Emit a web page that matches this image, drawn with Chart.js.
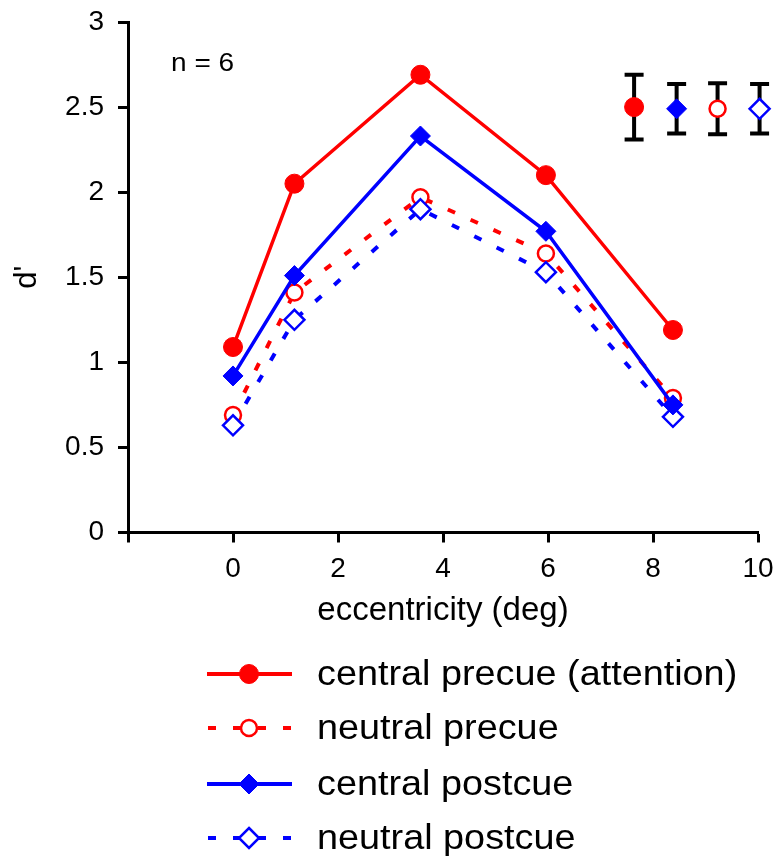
<!DOCTYPE html>
<html>
<head>
<meta charset="utf-8">
<script src="https://cdn.jsdelivr.net/npm/chart.js@4.4.1/dist/chart.umd.min.js"></script>
<style>
html, body { margin: 0; padding: 0; background: #fff; }
#wrap { width: 781px; height: 859px; position: relative; }
</style>
</head>
<body>
<div id="wrap"><canvas id="chart"></canvas></div>
<script>
// eccentricity (deg) of the five test positions
var ecc = [0, 1.17, 3.57, 5.96, 8.38];

// d' per condition
var centralPrecue  = [1.09, 2.05, 2.69, 2.10, 1.19];
var neutralPrecue  = [0.69, 1.41, 1.97, 1.64, 0.79];
var centralPostcue = [0.92, 1.51, 2.33, 1.77, 0.75];
var neutralPostcue = [0.63, 1.25, 1.90, 1.53, 0.68];

// the mean error bars in the top right corner
var errX    = [7.64, 8.45, 9.23, 10.03];
var errMid  = [2.50, 2.49, 2.49, 2.49];
var errHalf = [0.19, 0.145, 0.15, 0.145];

var xTicks = [-2, 0, 2, 4, 6, 8, 10];
var yTicks = [0, 0.5, 1, 1.5, 2, 2.5, 3];

var legendLabels = ['central precue (attention)', 'neutral precue', 'central postcue', 'neutral postcue'];

var RED = '#ff0000';
var BLUE = '#0000ff';
var FONT = '"Liberation Sans", Arial, Helvetica, sans-serif';

var styles = {
  cPre:  { color: RED,  dash: [],     shape: 'circle',  r: 9.5, fill: RED,    bw: 1 },
  nPre:  { color: RED,  dash: [8, 17], shape: 'circle',  r: 8,   fill: '#fff', bw: 2.5 },
  cPost: { color: BLUE, dash: [],     shape: 'rectRot', r: 10,  fill: BLUE,   bw: 1 },
  nPost: { color: BLUE, dash: [8, 17], shape: 'rectRot', r: 10,  fill: '#fff', bw: 2.5 }
};

function pts(xs, ys) {
  return xs.map(function(x, i) { return { x: x, y: ys[i] }; });
}

function lineSet(label, data, st) {
  return {
    label: label,
    data: data,
    borderColor: st.color,
    borderWidth: st.dash.length ? 4 : 3.5,
    borderDash: st.dash,
    pointStyle: st.shape,
    pointRadius: st.r,
    pointBackgroundColor: st.fill,
    pointBorderColor: st.color,
    pointBorderWidth: st.bw,
    tension: 0,
    clip: false
  };
}

function markerSet(x, y, st) {
  var s = lineSet('', [{ x: x, y: y }], st);
  s.showLine = false;
  return s;
}

// dataset 0 is drawn last, so it sits on top
var datasets = [
  lineSet(legendLabels[0], pts(ecc, centralPrecue), styles.cPre),
  lineSet(legendLabels[2], pts(ecc, centralPostcue), styles.cPost),
  lineSet(legendLabels[3], pts(ecc, neutralPostcue), styles.nPost),
  lineSet(legendLabels[1], pts(ecc, neutralPrecue), styles.nPre),
  markerSet(errX[0], errMid[0], styles.cPre),
  markerSet(errX[1], errMid[1], styles.cPost),
  markerSet(errX[2], errMid[2], styles.nPre),
  markerSet(errX[3], errMid[3], styles.nPost)
];

var errorBars = {
  id: 'errorBars',
  beforeDatasetsDraw: function(chart) {
    var xs = chart.scales.x, ys = chart.scales.y, ctx = chart.ctx;
    ctx.save();
    ctx.strokeStyle = '#000';
    ctx.lineWidth = 4;
    for (var i = 0; i < errX.length; i++) {
      var px = xs.getPixelForValue(errX[i]);
      var top = ys.getPixelForValue(errMid[i] + errHalf[i]);
      var bot = ys.getPixelForValue(errMid[i] - errHalf[i]);
      ctx.beginPath();
      ctx.moveTo(px, top); ctx.lineTo(px, bot);
      ctx.moveTo(px - 9.5, top); ctx.lineTo(px + 9.5, top);
      ctx.moveTo(px - 9.5, bot); ctx.lineTo(px + 9.5, bot);
      ctx.stroke();
    }
    ctx.restore();
  }
};

function drawMarker(ctx, st, x, y) {
  ctx.save();
  ctx.fillStyle = st.fill;
  ctx.strokeStyle = st.color;
  ctx.lineWidth = st.bw;
  ctx.setLineDash([]);
  ctx.beginPath();
  if (st.shape === 'circle') {
    ctx.arc(x, y, st.r, 0, Math.PI * 2);
  } else {
    ctx.moveTo(x, y - st.r); ctx.lineTo(x + st.r, y);
    ctx.lineTo(x, y + st.r); ctx.lineTo(x - st.r, y);
    ctx.closePath();
  }
  ctx.fill();
  ctx.stroke();
  ctx.restore();
}

// text is a bit wide in the original figure
function wideText(ctx, txt, x, y, k) {
  ctx.save();
  ctx.translate(x, y);
  ctx.scale(k, 1);
  ctx.fillText(txt, 0, 0);
  ctx.restore();
}

var extras = {
  id: 'extras',
  afterDraw: function(chart) {
    var ctx = chart.ctx;
    var xs = chart.scales.x, ys = chart.scales.y;
    ctx.save();
    ctx.fillStyle = '#000';
    ctx.font = '25px ' + FONT;
    ctx.textBaseline = 'middle';
    ctx.textAlign = 'left';
    wideText(ctx, 'n = 6', xs.getPixelForValue(-1.18), ys.getPixelForValue(2.75), 1.12);

    // legend under the axis
    var rows = [styles.cPre, styles.nPre, styles.cPost, styles.nPost];
    var rowY = [674, 728, 784, 838];
    for (var i = 0; i < rows.length; i++) {
      var st = rows[i];
      ctx.strokeStyle = st.color;
      ctx.lineWidth = 4;
      ctx.setLineDash(st.dash);
      ctx.lineDashOffset = st.dash.length ? -1 : 0;
      ctx.beginPath();
      ctx.moveTo(207, rowY[i]);
      ctx.lineTo(292, rowY[i]);
      ctx.stroke();
      drawMarker(ctx, st, 249, rowY[i]);
      ctx.fillStyle = '#000';
      ctx.font = '35px ' + FONT;
      wideText(ctx, legendLabels[i], 317, rowY[i] + 1, 1.08);
    }
    ctx.restore();
  }
};

new Chart(document.getElementById('chart').getContext('2d'), {
  type: 'line',
  data: { datasets: datasets },
  options: {
    responsive: true,
    maintainAspectRatio: false,
    animation: false,
    events: [],
    layout: { padding: { left: 0, top: 22, right: 23, bottom: 228.5 } },
    plugins: { legend: { display: false }, tooltip: { enabled: false } },
    scales: {
      x: {
        type: 'linear',
        min: -2,
        max: 10,
        afterBuildTicks: function(s) { s.ticks = xTicks.map(function(v) { return { value: v }; }); },
        afterFit: function(s) { s.height = 98; s.paddingLeft = 0; s.paddingRight = 0; },
        ticks: {
          callback: function(v) { return v === -2 ? '' : String(v); },
          font: { family: FONT, size: 28 },
          color: '#000',
          padding: 10,
          maxRotation: 0,
          autoSkip: false
        },
        grid: { drawOnChartArea: false, drawTicks: true, tickLength: 10, tickWidth: 3, tickColor: '#000', color: '#000' },
        border: { display: true, color: '#000', width: 3 },
        title: { display: true, text: 'eccentricity (deg)', color: '#000', font: { family: FONT, size: 33 }, padding: { top: 0, bottom: 0 } }
      },
      y: {
        type: 'linear',
        min: 0,
        max: 3,
        afterBuildTicks: function(s) { s.ticks = yTicks.map(function(v) { return { value: v }; }); },
        afterFit: function(s) { s.width = 128; s.paddingTop = 0; s.paddingBottom = 0; },
        ticks: {
          callback: function(v) { return String(v); },
          font: { family: FONT, size: 28 },
          color: '#000',
          padding: 14
        },
        grid: { drawOnChartArea: false, drawTicks: true, tickLength: 10, tickWidth: 3, tickColor: '#000', color: '#000' },
        border: { display: true, color: '#000', width: 3 },
        title: { display: true, text: "d'", color: '#000', font: { family: FONT, size: 31 }, padding: { top: 9, bottom: 0 } }
      }
    }
  },
  plugins: [errorBars, extras]
});
</script>
</body>
</html>
